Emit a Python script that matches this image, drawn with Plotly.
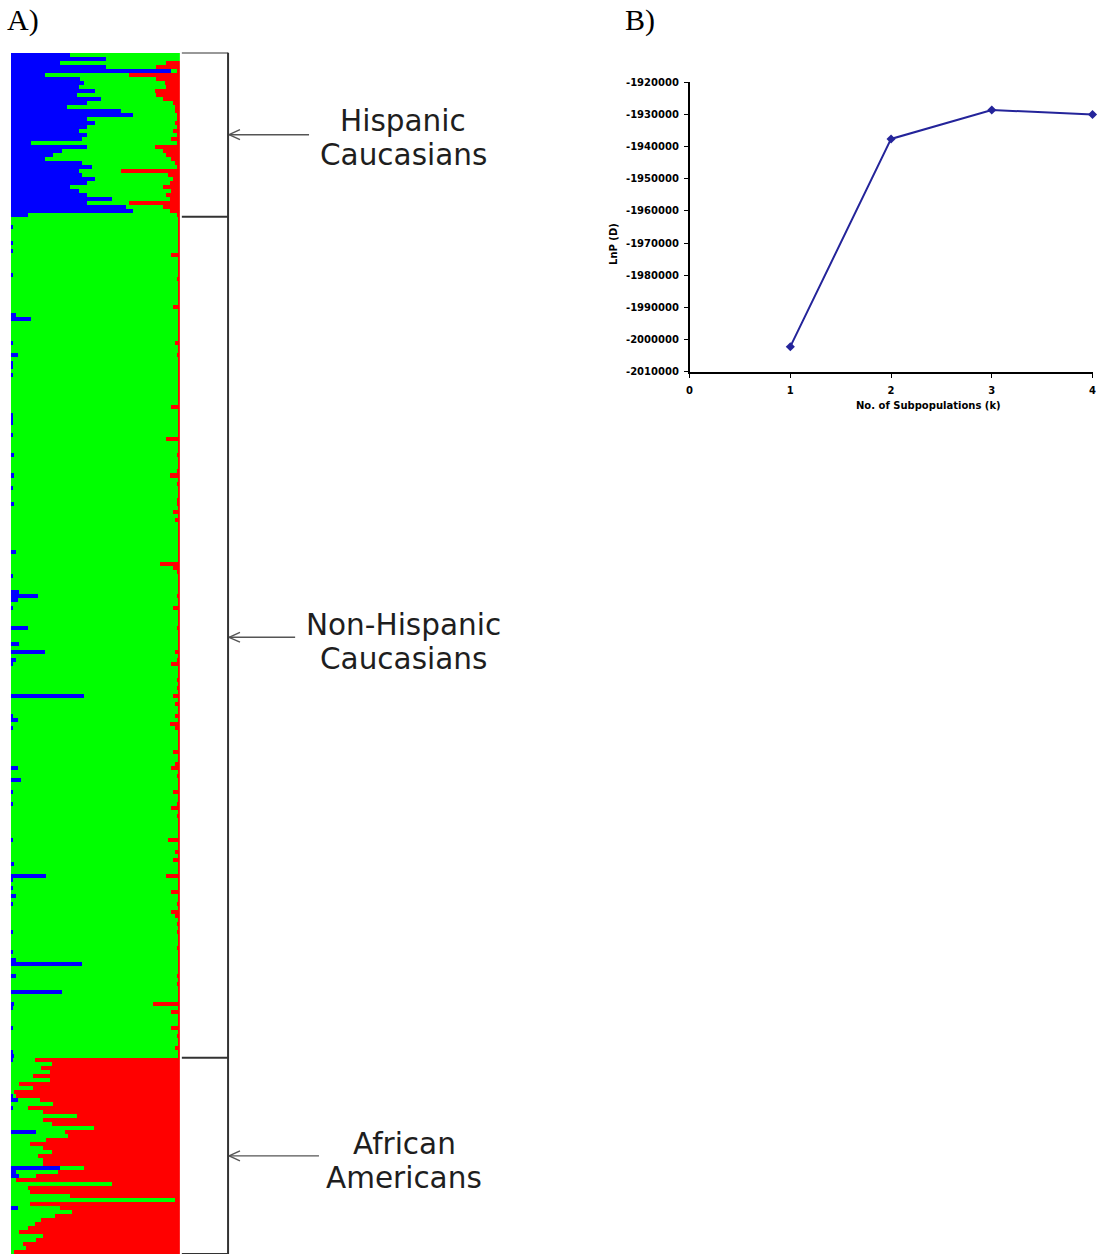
import plotly.graph_objects as go

W, H = 1099, 1259

# ---------------- Panel A: cluster membership per individual (percent) ----------------
# Hispanic Caucasians: blue and red membership, green holds the remainder
hisp_blue = [35, 56, 29, 56, 95, 20, 41, 43, 40, 50,
             39, 53, 45, 33, 65, 72, 45, 50, 45, 40,
             45, 42, 12, 45, 30, 25, 20, 42, 48, 40,
             42, 50, 45, 35, 40, 45, 60, 45, 68, 72,
             10]
hisp_red = [0, 0, 8, 14, 2, 30, 14, 9, 8, 15,
            14, 10, 4, 3, 3, 2, 2, 3, 2, 4,
            2, 5, 2, 15, 10, 8, 5, 3, 2, 35,
            7, 4, 6, 10, 5, 8, 6, 30, 10, 6,
            2]

# Non-Hispanic Caucasians: blue and red membership, green holds the remainder
nh_blue = [0, 0, 1, 0, 0, 0, 1, 0, 1, 0,
           0, 0, 0, 0, 1, 0, 0, 0, 0, 0,
           0, 0, 0, 0, 3, 12, 0, 0, 0, 0,
           0, 1, 0, 0, 4, 0, 1, 1, 0, 1,
           0, 0, 0, 0, 0, 0, 0, 0, 0, 1,
           1, 1, 0, 0, 1, 0, 0, 0, 0, 2,
           0, 0, 0, 0, 2, 0, 0, 1, 0, 0,
           0, 2, 0, 0, 0, 0, 0, 0, 0, 0,
           0, 0, 0, 3, 0, 0, 0, 0, 0, 1,
           0, 0, 0, 5, 16, 4, 0, 1, 0, 0,
           0, 0, 10, 0, 0, 0, 5, 0, 20, 0,
           3, 1, 0, 0, 0, 0, 0, 0, 0, 43,
           0, 0, 0, 0, 1, 4, 0, 1, 0, 0,
           0, 0, 0, 0, 0, 0, 0, 4, 0, 0,
           6, 0, 0, 1, 0, 0, 1, 0, 0, 0,
           0, 0, 0, 0, 0, 1, 0, 0, 0, 0,
           0, 2, 0, 0, 21, 1, 0, 1, 0, 3,
           0, 1, 0, 0, 0, 0, 0, 0, 1, 0,
           0, 0, 0, 1, 0, 3, 42, 0, 0, 3,
           0, 0, 0, 30, 0, 0, 2, 1, 0, 0,
           0, 0, 1, 0, 0, 0, 0, 0, 1, 2]
nh_red = [1, 1, 1, 1, 1, 1, 1, 1, 1, 5,
          1, 1, 1, 1, 1, 2, 1, 1, 1, 1,
          1, 1, 4, 1, 1, 1, 1, 1, 1, 1,
          1, 3, 1, 1, 2, 1, 1, 1, 1, 1,
          1, 1, 1, 1, 1, 1, 1, 5, 1, 1,
          1, 1, 1, 1, 1, 8, 1, 1, 1, 2,
          1, 1, 1, 2, 6, 1, 2, 1, 1, 1,
          2, 2, 1, 4, 1, 3, 1, 1, 1, 1,
          1, 1, 1, 1, 1, 1, 12, 4, 2, 1,
          1, 1, 1, 1, 2, 1, 1, 4, 1, 1,
          1, 1, 2, 1, 1, 1, 1, 1, 3, 1,
          2, 5, 1, 1, 1, 2, 1, 2, 1, 4,
          1, 3, 1, 1, 3, 1, 6, 3, 1, 1,
          1, 1, 1, 4, 1, 1, 3, 5, 1, 2,
          1, 1, 1, 4, 1, 1, 2, 5, 1, 2,
          1, 1, 1, 1, 1, 7, 1, 1, 3, 1,
          4, 1, 1, 1, 8, 1, 1, 1, 5, 1,
          1, 2, 1, 5, 3, 1, 2, 1, 2, 1,
          1, 1, 2, 1, 1, 1, 1, 1, 1, 2,
          1, 2, 1, 1, 1, 1, 16, 1, 5, 1,
          1, 1, 5, 1, 2, 1, 1, 3, 1, 1]

# African Americans: blue and green membership, red holds the remainder
aa_blue = [1, 0, 0, 0, 0, 0, 0, 0, 0, 1,
           4, 0, 1, 0, 0, 0, 0, 0, 15, 0,
           0, 0, 0, 0, 0, 0, 0, 29, 3, 5,
           0, 0, 0, 0, 0, 0, 0, 4, 0, 0,
           0, 0, 0, 0, 0, 0, 0, 0, 0]
aa_green = [13, 24, 18, 23, 13, 23, 5, 13, 2, 2,
            13, 25, 9, 19, 39, 19, 24, 49, 17, 34,
            21, 11, 19, 24, 16, 19, 19, 14, 25, 10,
            3, 60, 10, 11, 35, 97, 11, 25, 36, 26,
            18, 14, 10, 5, 19, 15, 7, 9, 2]

group_labels = [("Hispanic", "Caucasians"),
                ("Non-Hispanic", "Caucasians"),
                ("African", "Americans")]

# ---------------- Panel B: log-likelihood by number of clusters ----------------
k_values = [1, 2, 3, 4]
lnp_values = [-2002200, -1937600, -1928600, -1930000]
k_ticks = [0, 1, 2, 3, 4]
lnp_ticks = [-2010000, -2000000, -1990000, -1980000, -1970000,
             -1960000, -1950000, -1940000, -1930000, -1920000]
lnp_ticktext = ["-2010000", "-2000000", "-1990000", "-1980000", "-1970000",
                "-1960000", "-1950000", "-1940000", "-1930000", "-1920000"]

# ---------------- assemble membership table ----------------
blue = hisp_blue + nh_blue + aa_blue
red = (hisp_red + nh_red +
       [100 - b - g for b, g in zip(aa_blue, aa_green)])
green = ([100 - b - r for b, r in zip(hisp_blue, hisp_red)] +
         [100 - b - r for b, r in zip(nh_blue, nh_red)] + aa_green)
sizes = [len(hisp_blue), len(nh_blue), len(aa_blue)]
N = sum(sizes)
idx = list(range(N))


def px(x):
    return x / W


def py(y):
    return 1 - y / H


# Panel A pixel frame
A_X0, A_X1, A_Y0, A_Y1 = 8, 178, 47, 1259
# Panel B pixel frame
B_X0, B_X1, B_Y0, B_Y1 = 691, 1096.5, 77, 369

fig = go.Figure()
for vals, col in ((blue, "#0000FF"), (green, "#00FF00"), (red, "#FF0000")):
    fig.add_trace(go.Bar(
        y=idx, x=[v / 100 for v in vals], orientation="h", width=1,
        marker=dict(color=col, line=dict(width=0)),
        xaxis="x", yaxis="y", showlegend=False, hoverinfo="skip"))

fig.add_trace(go.Scatter(
    x=k_values, y=lnp_values, mode="lines+markers",
    line=dict(color="#24249A", width=2),
    marker=dict(symbol="diamond", size=7, color="#24249A"),
    xaxis="x2", yaxis="y2", showlegend=False, cliponaxis=False))

shapes = []
annotations = []
BR_X = 226.5
bracket_col = "#333333"
# vertical bracket spine
shapes.append(dict(type="line", xref="paper", yref="y",
                   x0=px(BR_X), x1=px(BR_X), y0=-0.5, y1=N - 0.5,
                   line=dict(color=bracket_col, width=2)))
# ticks at group boundaries
bounds = [-0.5]
for s in sizes:
    bounds.append(bounds[-1] + s)
for b in bounds:
    shapes.append(dict(type="line", xref="paper", yref="y",
                       x0=px(180), x1=px(BR_X), y0=b, y1=b,
                       line=dict(color=bracket_col, width=2)))

# arrows and labels, one per group
arrow_tails = [308, 294, 318]
label_x = [403, 403, 404]
label_shift = [3, 5, 5]
row_h = (A_Y1 - A_Y0) / N
arrow_col = "#555555"
label_font = dict(family="DejaVu Sans, Liberation Sans, sans-serif",
                  size=29.5, color="#1e1e1e")
for g in range(3):
    centre = A_Y0 + (bounds[g] + 0.5 + sizes[g] / 2) * row_h
    tip = BR_X + 1
    shapes.append(dict(type="line", xref="paper", yref="paper",
                       x0=px(tip), x1=px(arrow_tails[g]),
                       y0=py(centre), y1=py(centre),
                       line=dict(color=arrow_col, width=1.4)))
    for d in (-5, 5):
        shapes.append(dict(type="line", xref="paper", yref="paper",
                           x0=px(tip), x1=px(tip + 11),
                           y0=py(centre), y1=py(centre + d),
                           line=dict(color=arrow_col, width=1.4)))
    for j, line_txt in enumerate(group_labels[g]):
        annotations.append(dict(
            text=line_txt, xref="paper", yref="paper",
            x=px(label_x[g]), y=py(centre + label_shift[g] - 17 + 34.3 * j),
            xanchor="center", yanchor="middle", showarrow=False,
            font=label_font))

# panel letters
for txt, x in (("A)", 2), ("B)", 624)):
    annotations.append(dict(
        text=txt, xref="paper", yref="paper", x=px(x), y=py(14),
        xanchor="left", yanchor="middle", showarrow=False,
        font=dict(family="Liberation Serif, Times New Roman, serif",
                  size=30, color="#000000")))

# axis titles of panel B
bold = dict(family="DejaVu Sans, Liberation Sans, sans-serif", size=10,
            color="#000000", weight="bold")
annotations.append(dict(text="LnP (D)", xref="paper", yref="paper",
                        x=px(615), y=py(240), textangle=-90,
                        xanchor="center", yanchor="middle",
                        showarrow=False, font=bold))
annotations.append(dict(text="No. of Subpopulations (k)", xref="paper",
                        yref="paper", x=px(931), y=py(403),
                        xanchor="center", yanchor="middle",
                        showarrow=False, font=bold))

tickfont = dict(family="DejaVu Sans, Liberation Sans, sans-serif", size=10,
                color="#000000", weight="bold")

fig.update_layout(
    width=W, height=H, autosize=False,
    margin=dict(l=0, r=0, t=0, b=0),
    paper_bgcolor="white", plot_bgcolor="white",
    barmode="stack", bargap=0,
    xaxis=dict(domain=[px(A_X0), px(A_X1)], range=[0, 1], visible=False,
               fixedrange=True),
    yaxis=dict(domain=[py(A_Y1), py(A_Y0)], range=[N - 0.5, -0.5],
               visible=False, fixedrange=True),
    xaxis2=dict(domain=[px(B_X0), px(B_X1)], range=[0, 4], anchor="y2",
                tickvals=k_ticks, showline=True, linecolor="#000000",
                linewidth=1.5, ticks="outside", ticklen=4,
                tickcolor="#000000", showgrid=False, zeroline=False,
                tickfont=tickfont, ticklabelstandoff=4,
                ticklabeloverflow="allow"),
    yaxis2=dict(domain=[py(B_Y1), py(B_Y0)], range=[-2010000, -1920000],
                anchor="x2", tickvals=lnp_ticks, ticktext=lnp_ticktext,
                showline=True, linecolor="#000000", linewidth=1.5,
                ticks="outside", ticklen=4, tickcolor="#000000",
                showgrid=False, zeroline=False, tickfont=tickfont,
                ticklabelstandoff=3),
    shapes=shapes, annotations=annotations,
)

fig.write_html("out.html", config={"displayModeBar": False})
